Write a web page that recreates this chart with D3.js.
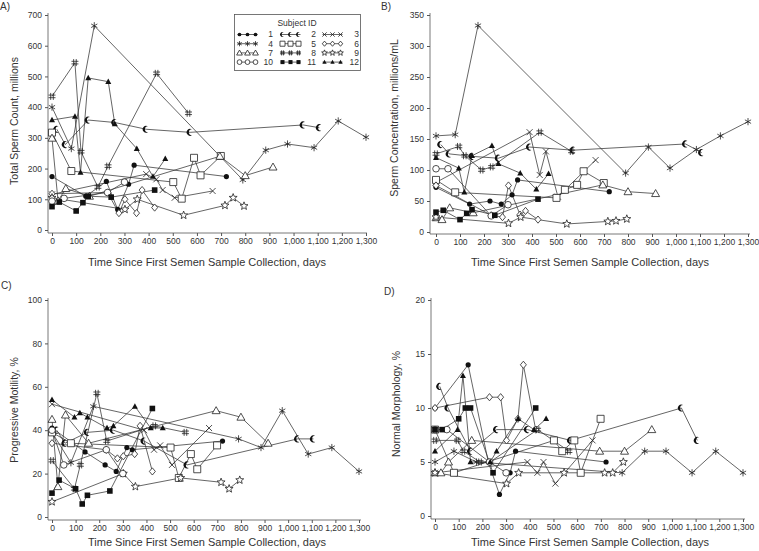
<!DOCTYPE html>
<html><head><meta charset="utf-8">
<script src="https://cdn.jsdelivr.net/npm/d3@7/dist/d3.min.js"></script>
<style>body{margin:0;background:#fff}svg{display:block}text{font-family:"Liberation Sans",Arial,sans-serif;fill:#333}</style>
</head><body><svg id="c" width="759" height="551"></svg>
<script>
// ---- data (subject order 1..12) ----
const subjectIds = [1,2,3,4,5,6,7,8,9,10,11,12];
const sampleDays = [
 [0,140,225,272,317,340,722],
 [20,55,150,260,390,572,1040,1107],
 [0,390,432,458,508,665],
 [0,80,175,790,885,975,1085,1185,1300],
 [0,80,502,537,588,615,699],
 [0,230,277,302,350,373,425],
 [0,25,57,155,695,800,915],
 [0,95,120,190,232,433,565],
 [0,302,353,545,716,750,795],
 [0,50,230,300],
 [0,30,100,128,150,245,425],
 [0,95,118,150,233,260,351,418,469]
];
const totalCount = [
 [174,110,158,67,149,211,174],
 [328,278,358,350,328,318,342,333],
 [116,182,165,130,105,127],
 [400,265,665,163,260,280,268,355,302],
 [317,192,156,102,235,178,241],
 [118,122,55,100,55,130,73],
 [299,95,135,110,240,177,205],
 [435,545,255,140,208,510,380],
 [105,67,100,48,80,105,78],
 [94,103,122,156],
 [76,91,62,89,110,107,130],
 [358,370,187,495,483,345,265,174,232]
];
const concentration = [
 [72,45,50,45,60,84,65],
 [141,126,122,119,137,132,142,128],
 [80,161,92,130,57,116],
 [155,157,333,95,137,103,133,155,178],
 [84,64,55,68,76,98,79],
 [75,27,24,75,28,34,20],
 [23,20,39,31,76,65,62],
 [126,138,123,100,105,161,130],
 [24,14,24,13,17,18,21],
 [102,102,26,44],
 [32,35,20,30,36,27,53],
 [120,103,64,123,139,110,95,69,94]
];
const motility = [
 [41,30,24,21,32,31,35],
 [40,34,39,40,35,24,36,36],
 [52,40,31,33,24,41],
 [39,25,51,36,32,49,29,32,21],
 [39,34,32,18,29,22,33],
 [34,31,27,28,29,42,21],
 [45,14,47,34,49,46,34],
 [26,13,24,57,35,42,39],
 [7,20,14,18,16,13,17],
 [40,24,31,20],
 [11,17,13,6,10,12,50],
 [54,46,48,46,41,42,51,41,41]
];
const morphology = [
 [10,14,5,2,4,6,5],
 [12,10,6,8,8,7,10,7],
 [4,5,4,5,3,7],
 [5,6,5,4,6,6,4,6,4],
 [8,4,7,6,7,4,9],
 [10,11,11,7,9,14,8],
 [4,4,5,7,6,6,8],
 [7,7,6,5,5,8,6],
 [4,3,4,4,4,4,5],
 [8,8,5,4],
 [8,8,9,10,10,4,10],
 [6,8,13,5,5,6,9,8,9]
];
const xTicks = [0,100,200,300,400,500,600,700,800,900,1000,1100,1200,1300];
const yTicksA = [0,100,200,300,400,500,600,700];
const yTicksB = [0,50,100,150,200,250,300,350];
const yTicksC = [0,20,40,60,80,100];
const yTicksD = [0,5,10,15,20];
const xTitle = "Time Since First Semen Sample Collection, days";

// ---- markers ----
function starPath(R,r){let p="";for(let i=0;i<10;i++){const a=-Math.PI/2+i*Math.PI/5;const rr=i%2?r:R;p+=(i?"L":"M")+(rr*Math.cos(a)).toFixed(2)+","+(rr*Math.sin(a)).toFixed(2);}return p+"Z";}
const markers = {
 1:{d:"M2.6,0A2.6,2.6 0 1 1 -2.6,0A2.6,2.6 0 1 1 2.6,0Z",fill:"#111",stroke:"none"},
 2:{d:"M1.75,-3.03A3.5,3.5 0 1 0 1.75,3.03A3.03,3.03 0 0 1 1.75,-3.03Z",fill:"#111",stroke:"none"},
 3:{d:"M-3,-3L3,3M-3,3L3,-3",fill:"none",stroke:"#222"},
 4:{d:"M0,-3.6L0,3.6M-3.1,-1.8L3.1,1.8M-3.1,1.8L3.1,-1.8",fill:"none",stroke:"#222"},
 5:{d:"M-3.5,-3.5H3.5V3.5H-3.5Z",fill:"#fff",stroke:"#222"},
 6:{d:"M0,-3.6L3,0L0,3.6L-3,0Z",fill:"#fff",stroke:"#222"},
 7:{d:"M0,-4L4,3L-4,3Z",fill:"#fff",stroke:"#222"},
 8:{d:"M-1.3,-3.5V3.5M1.3,-3.5V3.5M-3.5,-1.3H3.5M-3.5,1.3H3.5",fill:"none",stroke:"#222"},
 9:{d:starPath(4.2,1.8),fill:"#fff",stroke:"#222"},
 10:{d:"M3.3,0A3.3,3.3 0 1 1 -3.3,0A3.3,3.3 0 1 1 3.3,0Z",fill:"#fff",stroke:"#222"},
 11:{d:"M-2.8,-2.8H2.8V2.8H-2.8Z",fill:"#111",stroke:"none"},
 12:{d:"M0,-3.2L3,2.3L-3,2.3Z",fill:"#111",stroke:"none"}
};
function marker(g,id,x,y,s){s=s||1;const m=markers[id];g.append("path").attr("d",m.d).attr("transform",`translate(${x},${y}) scale(${s})`)
 .attr("fill",m.fill).attr("stroke",m.stroke).attr("stroke-width",0.8/s);}

const svg = d3.select("#c");

const panels = [
 {label:"A)",lx:0,ly:10,data:totalCount,yt:yTicksA,x0:52,x1:366,xa:48,xEnd:367,y0:230,y1:15,ymax:700,ya:233,yTop:13,
  ytitle:"Total Sperm Count, millions",ytx:15,yty:121,xtx:207,xty:266},
 {label:"B)",lx:381,ly:10,data:concentration,yt:yTicksB,x0:436,x1:748,xa:430,xEnd:750,y0:232,y1:15,ymax:350,ya:234,yTop:13,
  ytitle:"Sperm Concentration, millions/mL",ytx:395,yty:118,xtx:590,xty:266},
 {label:"C)",lx:1,ly:289,data:motility,yt:yTicksC,x0:52,x1:359,xa:48,xEnd:361,y0:517,y1:300,ymax:100,ya:520,yTop:298,
  ytitle:"Progressive Motility, %",ytx:15,yty:410,xtx:207,xty:546},
 {label:"D)",lx:384,ly:295,data:morphology,yt:yTicksD,x0:435,x1:743,xa:431,xEnd:745,y0:516,y1:300,ymax:20,ya:519,yTop:298,
  ytitle:"Normal Morphology, %",ytx:397,yty:404,xtx:590,xty:546}
];

panels.forEach(p=>{
 const g = svg.append("g");
 const x = d3.scaleLinear().domain([0,1300]).range([p.x0,p.x1]);
 const y = d3.scaleLinear().domain([0,p.ymax]).range([p.y0,p.y1]);
 const xa = g.append("g").attr("transform",`translate(0,${p.ya})`)
   .call(d3.axisBottom(x).tickValues(xTicks).tickSize(3).tickPadding(2).tickFormat(d3.format(",")));
 const ya = g.append("g").attr("transform",`translate(${p.xa},0)`)
   .call(d3.axisLeft(y).tickValues(p.yt).tickSize(3).tickPadding(3));
 [xa,ya].forEach(a=>{a.select(".domain").remove();a.selectAll("line").attr("stroke","#555");
   a.selectAll("text").attr("font-size",8.5).attr("fill","#444").style("font-family",'"Liberation Sans",Arial,sans-serif');});
 g.append("line").attr("x1",p.xa).attr("x2",p.xEnd).attr("y1",p.ya).attr("y2",p.ya).attr("stroke","#555").attr("stroke-width",0.8);
 g.append("line").attr("x1",p.xa).attr("x2",p.xa).attr("y1",p.yTop).attr("y2",p.ya).attr("stroke","#555").attr("stroke-width",0.8);
 g.append("text").attr("x",p.lx).attr("y",p.ly).attr("font-size",10).text(p.label);
 g.append("text").attr("transform",`translate(${p.ytx},${p.yty}) rotate(-90)`).attr("text-anchor","middle")
   .attr("dominant-baseline","middle").attr("font-size",10.5).text(p.ytitle);
 g.append("text").attr("x",p.xtx).attr("y",p.xty).attr("text-anchor","middle").attr("font-size",11).text(xTitle);
 const line = d3.line().x(d=>x(d[0])).y(d=>y(d[1]));
 subjectIds.forEach((id,i)=>{
   const pts = sampleDays[i].map((d,j)=>[d,p.data[i][j]]);
   g.append("path").attr("d",line(pts)).attr("fill","none").attr("stroke","#333").attr("stroke-width",0.75);
 });
 subjectIds.forEach((id,i)=>{
   sampleDays[i].forEach((d,j)=>marker(g,id,x(d),y(p.data[i][j])));
 });
});

// legend
const lg = svg.append("g");
lg.append("rect").attr("x",234.5).attr("y",14.5).attr("width",126).attr("height",56).attr("fill","#fff").attr("stroke","#555").attr("stroke-width",0.8);
lg.append("text").attr("x",297).attr("y",25.5).attr("text-anchor","middle").attr("font-size",8.5).text("Subject ID");
const colX = [239.5,282.5,324.5], numX = [273,316,359], rowY = [34.5,43.7,52.9,62.1];
subjectIds.forEach((id,i)=>{
  const r = Math.floor(i/3), c = i%3;
  const yy = rowY[r], xx = colX[c];
  lg.append("line").attr("x1",xx-2).attr("x2",xx+18).attr("y1",yy).attr("y2",yy).attr("stroke","#333").attr("stroke-width",0.75);
  [0,8,16].forEach(o=>marker(lg,id,xx+o,yy,0.72));
  lg.append("text").attr("x",numX[c]).attr("y",yy).attr("dy","0.35em").attr("text-anchor","end").attr("font-size",8.5).text(id);
});
</script></body></html>
